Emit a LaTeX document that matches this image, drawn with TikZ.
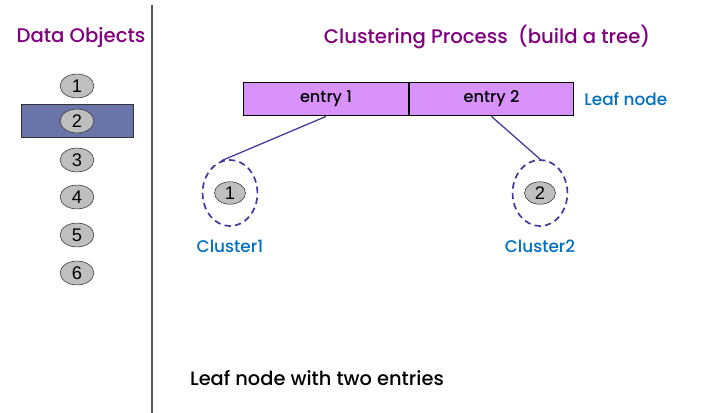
\documentclass[tikz,border=0pt]{standalone}
\usepackage{fontspec}
\setmainfont{Poppins}[UprightFont={* Medium}]
\newfontfamily\digitfont{Liberation Sans}
\usetikzlibrary{positioning,shapes.geometric}

\definecolor{titlepurple}{RGB}{128,0,128}
\definecolor{labelblue}{RGB}{0,112,192}
\definecolor{entryviolet}{RGB}{217,146,250}
\definecolor{selblue}{RGB}{105,117,168}
\definecolor{linkblue}{RGB}{64,56,160}

\begin{document}
\begin{tikzpicture}[
  x=0.025cm, y=-0.025cm,
  title/.style={text=titlepurple, font=\fontsize{14}{16}\selectfont},
  obj/.style={draw=black!80, ellipse, fill=black!25, inner sep=0pt, minimum width=24pt, minimum height=17pt, font=\digitfont\fontsize{13}{13}\selectfont},
  entry/.style={draw, thick, fill=entryviolet, minimum height=24pt, inner sep=0pt, font=\fontsize{11.5}{13}\selectfont},
  cluster/.style={draw=linkblue, ellipse, dashed, line width=1.2pt, dash pattern=on 4.5pt off 3pt, minimum width=39pt, minimum height=47pt},
  lbl/.style={text=labelblue, font=\fontsize{12}{13}\selectfont},
  link/.style={draw=linkblue, line width=0.9pt}
]
\useasboundingbox (0,0) rectangle (718,413);

% left column
\draw[black!65, line width=1pt] (152,5) -- (152,413);
\node[title] (objhead) at (81,38) {Data Objects};
\fill[selblue, draw=black!80] (21,104) rectangle (133,137);
\foreach \n/\y in {1/86,2/121,3/160,4/197,5/235,6/273}
  \node[obj] (obj\n) at (77,\y) {\n};

% clustering process
\node[title] (prochead) at (487,37) {Clustering Process\ \ (build a tree)};
\node[entry, minimum width=117.6pt] (e1) at (326,99) {entry 1};
\node[entry, minimum width=116.2pt, right=0pt of e1] (e2) {entry 2};
\node[lbl, right=4pt of e2] (leaf) {Leaf node};

\node[cluster] (c1) at (230,193) {};
\node[obj, minimum width=22pt, minimum height=16pt] (o1) at (c1) {1};
\node[lbl, below=6pt of c1] (c1lbl) {Cluster1};

\node[cluster] (c2) at (540,193) {};
\node[obj, minimum width=22pt, minimum height=16pt] (o2) at (c2) {2};
\node[lbl, below=6pt of c2] (c2lbl) {Cluster2};

\draw[link] (e1.south) -- (c1.105);
\draw[link] (e2.south) -- (c2.north);

\node[font=\fontsize{13.8}{15}\selectfont] (note) at (317,378) {Leaf node with two entries};
\end{tikzpicture}
\end{document}
